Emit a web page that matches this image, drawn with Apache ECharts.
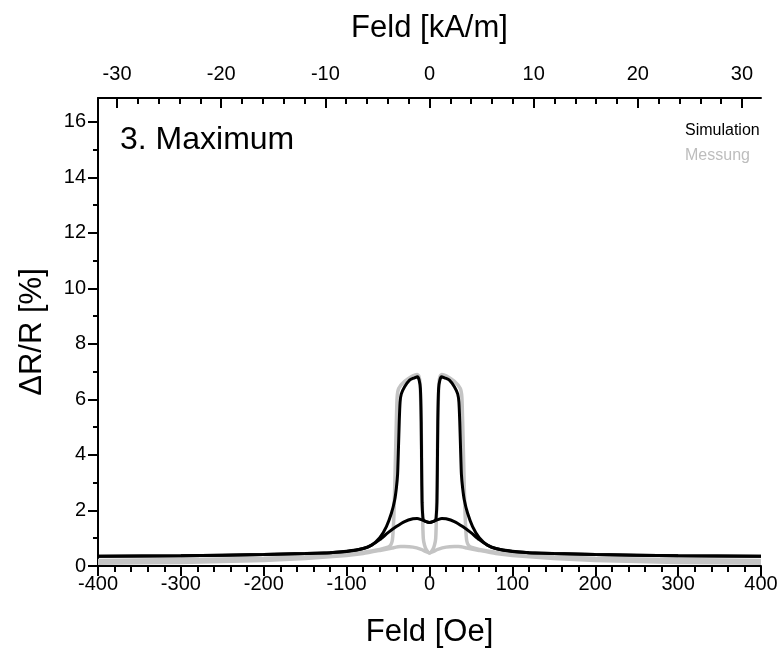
<!DOCTYPE html>
<html>
<head>
<meta charset="utf-8">
<script src="https://cdn.jsdelivr.net/npm/echarts@6/dist/echarts.min.js"></script>
<style>html,body{margin:0;padding:0;background:#fff}#c{width:781px;height:660px}</style>
</head>
<body>
<div id="c"></div>
<script>
// ---- Data (field in Oe, dR/R in %) ----
// Simulation, sweep from +400 Oe to -400 Oe
var simDownX = [400, 300, 200, 150, 120, 100, 80, 70, 60, 50, 40, 30, 20, 15, 10, 5, 0, -5, -7, -8, -9, -9.5, -10, -11, -12.5, -14.5, -18, -24, -30, -34, -35.5, -36.5, -37.5, -38.5, -40, -42, -46, -52, -60, -70, -80, -100, -120, -150, -200, -300, -400];
var simDownY = [0.35, 0.37, 0.41, 0.45, 0.48, 0.53, 0.63, 0.75, 0.95, 1.2, 1.42, 1.6, 1.7, 1.71, 1.67, 1.61, 1.57, 1.61, 1.64, 1.75, 2.3, 3.5, 5.2, 6.4, 6.7, 6.82, 6.78, 6.7, 6.46, 6.2, 5.9, 5.2, 4.2, 3.3, 2.8, 2.38, 1.9, 1.42, 1.02, 0.75, 0.63, 0.52, 0.48, 0.45, 0.41, 0.37, 0.35];
// Simulation, sweep from -400 Oe to +400 Oe
var simUpX = [-400, -300, -200, -150, -120, -100, -80, -70, -60, -50, -40, -30, -20, -15, -10, -5, 0, 5, 7, 8, 9, 9.5, 10, 11, 12.5, 14.5, 18, 24, 30, 34, 35.5, 36.5, 37.5, 38.5, 40, 42, 46, 52, 60, 70, 80, 100, 120, 150, 200, 300, 400];
var simUpY = [0.35, 0.37, 0.41, 0.45, 0.48, 0.53, 0.63, 0.75, 0.95, 1.2, 1.42, 1.6, 1.7, 1.71, 1.67, 1.61, 1.57, 1.61, 1.64, 1.75, 2.3, 3.5, 5.2, 6.4, 6.7, 6.82, 6.78, 6.7, 6.46, 6.2, 5.9, 5.2, 4.2, 3.3, 2.8, 2.38, 1.9, 1.42, 1.02, 0.75, 0.63, 0.52, 0.48, 0.45, 0.41, 0.37, 0.35];
// Measurement, sweep from +400 Oe to -400 Oe
var measDownX = [400, 300, 200, 150, 100, 80, 60, 45, 35, 30, 20, 10, 5, 0, -4, -6, -7.5, -8.5, -9.5, -10.5, -11.5, -13, -15, -20, -30, -37, -39, -40, -41, -42, -43, -44, -45, -47, -50, -60, -80, -100, -150, -200, -300, -400];
var measDownY = [0.1, 0.13, 0.2, 0.27, 0.38, 0.45, 0.56, 0.65, 0.7, 0.7, 0.68, 0.6, 0.53, 0.47, 0.6, 0.75, 1.0, 2.0, 4.0, 5.8, 6.6, 6.85, 6.9, 6.85, 6.65, 6.4, 6.1, 5.2, 4.0, 2.8, 1.8, 1.2, 0.9, 0.75, 0.68, 0.6, 0.5, 0.42, 0.33, 0.28, 0.23, 0.2];
// Measurement, sweep from -400 Oe to +400 Oe
var measUpX = [-400, -300, -200, -150, -100, -80, -60, -45, -35, -30, -20, -10, -5, 0, 4, 6, 7.5, 8.5, 9.5, 10.5, 11.5, 13, 15, 20, 30, 37, 39, 40, 41, 42, 43, 44, 45, 47, 50, 60, 80, 100, 150, 200, 300, 400];
var measUpY = [0.1, 0.13, 0.2, 0.27, 0.38, 0.45, 0.56, 0.65, 0.7, 0.7, 0.68, 0.6, 0.53, 0.47, 0.6, 0.75, 1.0, 2.0, 4.0, 5.8, 6.6, 6.85, 6.9, 6.85, 6.65, 6.4, 6.1, 5.2, 4.0, 2.8, 1.8, 1.2, 0.9, 0.75, 0.68, 0.6, 0.5, 0.42, 0.33, 0.28, 0.23, 0.2];

// Tick values
var yMajorTicks = [0, 2, 4, 6, 8, 10, 12, 14, 16];
var yMinorTicks = [1, 3, 5, 7, 9, 11, 13, 15];
var topMajorTicks = [-30, -20, -10, 0, 10, 20, 30];
var topMinorTicks = [-28, -26, -24, -22, -18, -16, -14, -12, -8, -6, -4, -2, 2, 4, 6, 8, 12, 14, 16, 18, 22, 24, 26, 28];

var OE_PER_KAM = 12.566; // 1 kA/m = 4*pi Oe
var X_MIN = -400, X_MAX = 400, Y_MAX = 16.86;

function pairs(xs, ys) { return xs.map(function (x, i) { return [x, ys[i]]; }); }

var FONT = 'Liberation Sans, Arial, sans-serif';
var chart = echarts.init(document.getElementById('c'), null, { renderer: 'canvas' });

function lineSeries(name, xs, ys, color, width) {
  return {
    name: name, type: 'line', xAxisIndex: 0, yAxisIndex: 0,
    data: pairs(xs, ys), showSymbol: false, symbol: 'none', smooth: 0.2,
    lineStyle: { color: color, width: width }, itemStyle: { color: color },
    animation: false, clip: true
  };
}

var option = {
  animation: false,
  textStyle: { fontFamily: FONT },
  grid: { left: 98, right: 20, top: 98, bottom: 94, containLabel: false },
  legend: {
    left: 675, top: 118, orient: 'vertical', align: 'left',
    itemWidth: 0, itemHeight: 0, itemGap: 9, icon: 'none',
    selectedMode: false,
    data: [
      { name: 'Simulation', textStyle: { color: '#000', fontSize: 16, fontFamily: FONT } },
      { name: 'Messung', textStyle: { color: '#bdbdbd', fontSize: 16, fontFamily: FONT } }
    ]
  },
  graphic: [{
    type: 'text', left: 120, top: 124,
    style: { text: '3. Maximum', fontSize: 32, fontFamily: FONT, fill: '#000' }
  }],
  xAxis: [
    {
      type: 'value', position: 'bottom', min: X_MIN, max: X_MAX, interval: 100,
      name: 'Feld [Oe]', nameLocation: 'middle', nameGap: 51,
      nameTextStyle: { fontSize: 31, color: '#000', fontFamily: FONT },
      axisLine: { show: true, onZero: false, lineStyle: { color: '#000', width: 2 } },
      axisTick: { show: true, inside: false, length: 10, lineStyle: { color: '#000', width: 2 } },
      minorTick: { show: true, splitNumber: 5, length: 6, lineStyle: { color: '#000', width: 2 } },
      axisLabel: { fontSize: 20, color: '#000', margin: 8, fontFamily: FONT },
      splitLine: { show: false }, minorSplitLine: { show: false }
    },
    {
      type: 'value', position: 'top', min: X_MIN / OE_PER_KAM, max: X_MAX / OE_PER_KAM,
      name: 'Feld [kA/m]', nameLocation: 'middle', nameGap: 54,
      nameTextStyle: { fontSize: 31, color: '#000', fontFamily: FONT },
      axisLine: { show: true, onZero: false, lineStyle: { color: '#000', width: 2 } },
      axisTick: { show: true, inside: true, length: 10, customValues: topMajorTicks, lineStyle: { color: '#000', width: 2 } },
      axisLabel: { show: true, fontSize: 20, color: '#000', margin: 14, customValues: topMajorTicks, fontFamily: FONT },
      splitLine: { show: false }
    },
    {
      type: 'value', position: 'top', min: X_MIN / OE_PER_KAM, max: X_MAX / OE_PER_KAM,
      axisLine: { show: false, onZero: false },
      axisTick: { show: true, inside: true, length: 6, customValues: topMinorTicks, lineStyle: { color: '#000', width: 2 } },
      axisLabel: { show: false },
      splitLine: { show: false }
    }
  ],
  yAxis: [
    {
      type: 'value', position: 'left', min: 0, max: Y_MAX,
      name: 'ΔR/R [%]', nameLocation: 'middle', nameGap: 50,
      nameTextStyle: { fontSize: 31, color: '#000', fontFamily: FONT },
      axisLine: { show: true, onZero: false, lineStyle: { color: '#000', width: 2 } },
      axisTick: { show: true, inside: false, length: 10, customValues: yMajorTicks, lineStyle: { color: '#000', width: 2 } },
      axisLabel: { show: true, fontSize: 20, color: '#000', margin: 12, customValues: yMajorTicks, fontFamily: FONT },
      splitLine: { show: false }
    },
    {
      type: 'value', position: 'left', min: 0, max: Y_MAX,
      axisLine: { show: false, onZero: false },
      axisTick: { show: true, inside: false, length: 5, customValues: yMinorTicks, lineStyle: { color: '#000', width: 2 } },
      axisLabel: { show: false },
      splitLine: { show: false }
    }
  ],
  series: [
    lineSeries('Messung', measDownX, measDownY, '#c4c4c4', 3.5),
    lineSeries('Messung', measUpX, measUpY, '#c4c4c4', 3.5),
    lineSeries('Simulation', simDownX, simDownY, '#000', 3),
    lineSeries('Simulation', simUpX, simUpY, '#000', 3)
  ]
};
chart.setOption(option);
</script>
</body>
</html>
